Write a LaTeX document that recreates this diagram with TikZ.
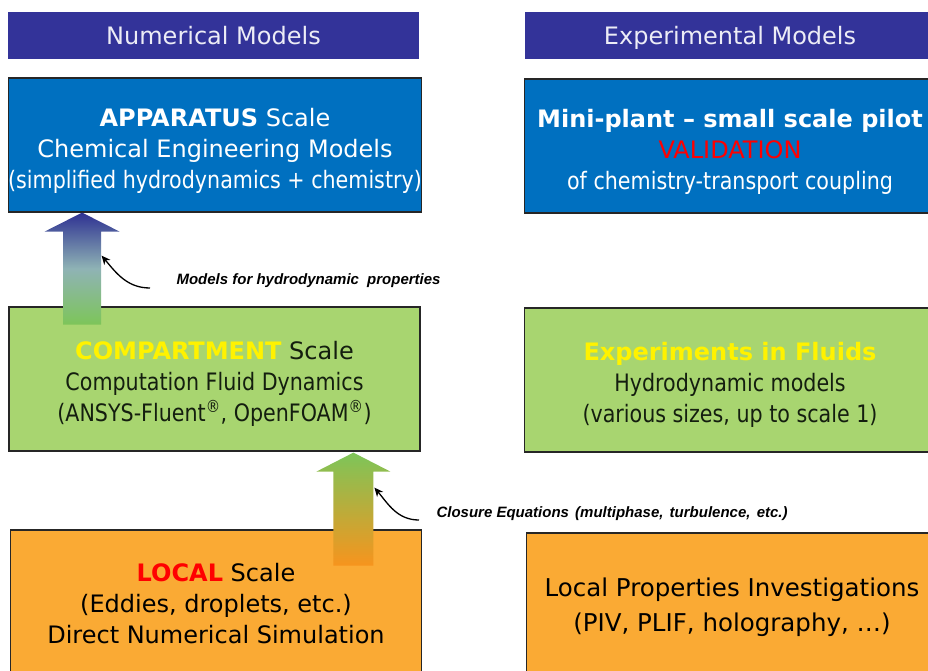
\documentclass[tikz,border=0pt]{standalone}
\usepackage{fontspec}
\setmainfont{DejaVu Sans}
\newfontfamily\narrowfont{DejaVu Sans}[FakeStretch=0.86]
\newfontfamily\notefont{Liberation Sans}
\usetikzlibrary{arrows.meta}
\usetikzlibrary{calc}
\definecolor{headblue}{RGB}{51,51,153}
\definecolor{headtext}{RGB}{236,236,246}
\definecolor{boxblue}{RGB}{0,112,192}
\definecolor{boxgreen}{RGB}{168,213,112}
\definecolor{boxorange}{RGB}{250,170,52}
\definecolor{arrblue}{RGB}{46,49,146}
\definecolor{arrgray}{RGB}{143,179,181}
\definecolor{arrgreen}{RGB}{125,197,89}
\definecolor{arrorange}{RGB}{247,148,29}
\definecolor{darktext}{RGB}{20,30,15}
\newcommand{\padtop}[1]{\rule{0pt}{#1}}

\begin{document}
\begin{tikzpicture}[x=1pt,y=-1pt,
  head/.style={fill=headblue,text=headtext,minimum width=411pt,minimum height=47pt,inner sep=0pt,text height=18pt,text depth=0pt,font=\fontsize{24}{28}\selectfont},
  box/.style={draw=black!85,line width=1.2pt,minimum width=411pt,align=center,inner sep=0pt,font=\fontsize{24}{31}\selectfont},
  bluebox/.style={box,fill=boxblue,text=white,minimum height=134pt},
  greenbox/.style={box,fill=boxgreen,text=darktext,minimum height=144pt},
  orangebox/.style={box,fill=boxorange,text=black,minimum height=148pt},
  note/.style={font=\notefont\bfseries\itshape\fontsize{15}{18}\selectfont,anchor=west},
  callout/.style={line width=1.3pt,-{Stealth[length=9pt,width=8pt]}}]
\useasboundingbox (0,0) rectangle (928,671);
\node (numhead) [head] at (213.5,35.5) {Numerical Models};
\node (exphead) [head] at (730,35.5) {Experimental Models};
\node (app) [bluebox] at (215,145) {\padtop{30pt}{\bfseries APPARATUS} Scale\\Chemical Engineering Models\\{\narrowfont(simplified hydrodynamics + chemistry)}};
\node (mini) [bluebox] at (730,146) {\padtop{29pt}{\bfseries Mini-plant – small scale pilot}\\{\color{red}VALIDATION}\\{\narrowfont of chemistry-transport coupling}};
\node (comp) [greenbox] at (214.5,379) {\padtop{28.5pt}{\bfseries\color{yellow}COMPARTMENT} Scale\\{\narrowfont Computation Fluid Dynamics}\\{\narrowfont(ANSYS-Fluent\textsuperscript{®}, OpenFOAM\textsuperscript{®})}};
\node (fluid) [greenbox] at (730,380) {\padtop{27pt}{\bfseries\color{yellow}Experiments in Fluids}\\{\narrowfont Hydrodynamic models}\\{\narrowfont(various sizes, up to scale 1)}};
\node (local) [orangebox] at (216,604) {{\bfseries\color{red}LOCAL} Scale\\(Eddies, droplets, etc.)\\Direct Numerical Simulation};
\node (prop) [orangebox,font=\fontsize{24.5}{35}\selectfont] at (732,607) {Local Properties Investigations\\(PIV, PLIF, holography, …)};
\shade[top color=arrblue,bottom color=arrgreen,middle color=arrgray] ($(app.south west)+(74.5,0)$) coordinate (tip1) -- ++(37.5,19) -- ++(-18.5,0) -- ++(0,93) -- ++(-38,0) -- ++(0,-93) -- ++(-18.5,0) -- cycle;
\shade[top color=arrgreen,bottom color=arrorange] ($(comp.south west)+(345,1)$) coordinate (tip2) -- ++(37,19) -- ++(-17,0) -- ++(0,94) -- ++(-40,0) -- ++(0,-94) -- ++(-17,0) -- cycle;
\node (hydnote) [note] at (173,281) {Models for hydrodynamic\hspace{4pt} properties};
\node (closnote) [note] at (433,514) {Closure Equations\hspace{2pt} (multiphase,\hspace{2pt} turbulence,\hspace{2pt} etc.)};
\coordinate (c1) at ($(hydnote.west)+(-23,7)$);
\coordinate (c2) at ($(closnote.west)+(-14,6)$);
\draw[callout] (c1) to[out=180,in=-50] ($(tip1)+(19.5,43)$);
\draw[callout] (c2) to[out=180,in=-50] ($(tip2)+(21,35)$);
\end{tikzpicture}
\end{document}
